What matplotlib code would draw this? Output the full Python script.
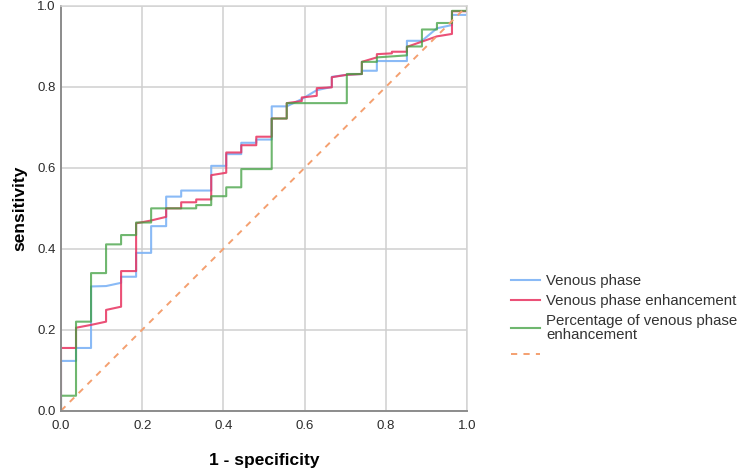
import matplotlib
matplotlib.use("Agg")
import matplotlib.pyplot as plt

plt.rcParams["font.family"] = ["Liberation Sans", "DejaVu Sans"]

# --------------------------------------------------
# ROC curve vertices
# --------------------------------------------------

labels = ["Venous phase", "Venous phase enhancement",
          "Percentage of venous phase\nenhancement"]

fpr_venous = [0, 0, 0.037, 0.037, 0.074, 0.074, 0.111, 0.148, 0.148, 0.185,
              0.185, 0.222, 0.222, 0.259, 0.259, 0.296, 0.296, 0.370, 0.370,
              0.407, 0.407, 0.444, 0.444, 0.481, 0.481, 0.519, 0.519, 0.556,
              0.593, 0.630, 0.667, 0.667, 0.704, 0.741, 0.741, 0.778, 0.778,
              0.852, 0.852, 0.889, 0.926, 0.963, 0.963, 1.0, 1.0]
tpr_venous = [0, 0.123, 0.123, 0.155, 0.155, 0.307, 0.308, 0.316, 0.331, 0.331,
              0.390, 0.390, 0.456, 0.456, 0.529, 0.529, 0.544, 0.544, 0.605,
              0.605, 0.634, 0.634, 0.662, 0.662, 0.670, 0.670, 0.752, 0.752,
              0.770, 0.792, 0.800, 0.825, 0.830, 0.832, 0.840, 0.840, 0.864,
              0.864, 0.914, 0.914, 0.945, 0.953, 0.978, 0.978, 1.0]

fpr_enh = [0, 0, 0.037, 0.037, 0.074, 0.111, 0.111, 0.148, 0.148, 0.185, 0.185,
           0.222, 0.259, 0.259, 0.296, 0.296, 0.333, 0.333, 0.370, 0.370, 0.407,
           0.407, 0.444, 0.444, 0.481, 0.481, 0.519, 0.519, 0.556, 0.556, 0.593,
           0.593, 0.630, 0.630, 0.667, 0.667, 0.704, 0.741, 0.741, 0.778, 0.778,
           0.815, 0.815, 0.852, 0.852, 0.889, 0.926, 0.963, 0.963, 1.0, 1.0]
tpr_enh = [0, 0.155, 0.155, 0.205, 0.212, 0.220, 0.249, 0.257, 0.345, 0.345, 0.463,
           0.470, 0.479, 0.500, 0.500, 0.515, 0.515, 0.522, 0.522, 0.582, 0.588,
           0.638, 0.638, 0.656, 0.656, 0.677, 0.677, 0.722, 0.722, 0.760, 0.765,
           0.774, 0.778, 0.797, 0.799, 0.824, 0.830, 0.832, 0.862, 0.873, 0.881,
           0.883, 0.887, 0.887, 0.899, 0.912, 0.925, 0.931, 0.987, 0.987, 1.0]

fpr_pct = [0, 0, 0.037, 0.037, 0.074, 0.074, 0.111, 0.111, 0.148, 0.148, 0.185,
           0.185, 0.222, 0.222, 0.333, 0.333, 0.370, 0.370, 0.407, 0.407, 0.444,
           0.444, 0.519, 0.519, 0.556, 0.556, 0.704, 0.704, 0.741, 0.741, 0.778,
           0.778, 0.852, 0.852, 0.889, 0.889, 0.926, 0.926, 0.963, 0.963, 1.0, 1.0]
tpr_pct = [0, 0.037, 0.037, 0.220, 0.220, 0.340, 0.340, 0.411, 0.411, 0.434, 0.434,
           0.465, 0.465, 0.500, 0.500, 0.508, 0.508, 0.530, 0.530, 0.552, 0.552,
           0.597, 0.597, 0.722, 0.722, 0.760, 0.760, 0.832, 0.832, 0.862, 0.862,
           0.873, 0.878, 0.900, 0.900, 0.942, 0.942, 0.958, 0.958, 0.988, 0.988, 1.0]

ref_line = [0, 1]
ticks = [0.0, 0.2, 0.4, 0.6, 0.8, 1.0]


# --------------------------------------------------
# MAIN
# --------------------------------------------------

def main():

    fig = plt.figure(figsize=(7.44, 4.73), dpi=100)
    ax = fig.add_axes([61 / 744, 1 - 410.7 / 473, 406 / 744, 404.7 / 473])

    ax.plot(fpr_venous, tpr_venous, color="#7DB3F5", linewidth=1.5, alpha=0.9,
            label=labels[0])
    ax.plot(fpr_enh, tpr_enh, color="#E8325F", linewidth=1.5, alpha=0.85,
            label=labels[1])
    ax.plot(fpr_pct, tpr_pct, color="#3F9F3F", linewidth=1.5, alpha=0.75,
            label=labels[2])
    ax.plot(ref_line, ref_line, color="#F4A070", linewidth=1.4,
            linestyle=(0, (3.2, 3.2)), label=" ")

    ax.set_xlim(0, 1)
    ax.set_ylim(0, 1)
    ax.set_xticks(ticks)
    ax.set_yticks(ticks)
    ax.set_xticklabels([f"{t:.1f}" for t in ticks])
    ax.set_yticklabels([f"{t:.1f}" for t in ticks])
    ax.tick_params(length=0, labelsize=9.5, colors="#2b2b2b")
    ax.tick_params(axis="x", pad=7)
    ax.tick_params(axis="y", pad=4)

    ax.grid(True, color="#cfcfcf", linewidth=1.1)
    ax.set_axisbelow(True)
    for side in ["top", "right"]:
        ax.spines[side].set_color("#d4d4d4")
        ax.spines[side].set_linewidth(1.1)
    for side in ["left", "bottom"]:
        ax.spines[side].set_color("#8c8c8c")
        ax.spines[side].set_linewidth(1.4)

    ax.set_xlabel("1 - specificity", fontsize=12.5, fontweight="bold", va="center")
    ax.xaxis.set_label_coords(0.5, -0.122)
    ax.set_ylabel("sensitivity", fontsize=12.5, fontweight="bold", va="center")
    ax.yaxis.set_label_coords(-0.101, 0.5)

    leg = fig.legend(loc="center left", bbox_to_anchor=(511 / 744, 1 - 318 / 473),
                     frameon=False, fontsize=10.8, handlelength=1.95,
                     handletextpad=0.4, labelspacing=0.4, borderpad=0,
                     borderaxespad=0)
    for t in leg.get_texts():
        t.set_linespacing(1.0)
        t.set_color("#333333")

    fig.savefig("out.png", dpi=100)


if __name__ == "__main__":
    main()
